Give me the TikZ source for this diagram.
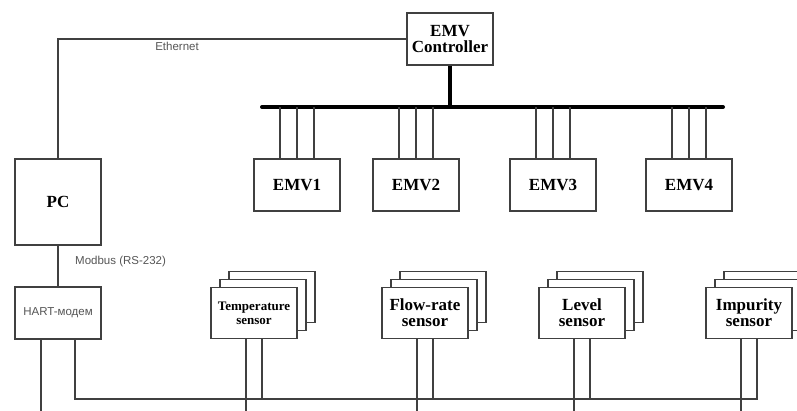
\documentclass[tikz,border=0pt]{standalone}
\usepackage{fontspec}
\setmainfont{Liberation Serif}
\newfontfamily\lsans{Liberation Sans}
\usetikzlibrary{calc}
\definecolor{ln}{HTML}{404040}
\definecolor{tx}{HTML}{555555}
\begin{document}
\begin{tikzpicture}[x=1pt,y=-1pt,
  box/.style={draw=ln,line width=1.3pt,fill=white,minimum width=86pt,minimum height=52pt,inner sep=0pt,align=center,font=\bfseries\fontsize{17}{16}\selectfont},
  lbl/.style={font=\lsans\fontsize{11.5}{13}\selectfont,text=tx,inner sep=0pt},
  wire/.style={draw=ln,line width=1.3pt},
  thick bus/.style={draw=black,line width=4pt}]
\useasboundingbox (0,0) rectangle (797,411);
\coordinate (busL) at (262,107);
\coordinate (busR) at (723,107);
\coordinate (sbus) at (0,399);
\coordinate (bot) at (0,413);
% top
\node[box] (ctrl) at (450,39) {EMV\\Controller};
\node[box,minimum height=86pt] (pc) at (58,202) {PC};
\draw[wire] (pc.north) |- (ctrl.west);
\node[lbl] (eth) at (177,46) {Ethernet};
\draw[thick bus] (ctrl.south) -- (ctrl.south |- busL);
\draw[thick bus,line cap=round] (busL) -- (busR);
\foreach \n/\x/\t in {e1/297/EMV1,e2/416/EMV2,e3/553/EMV3,e4/689/EMV4}{
  \node[box] (\n) at (\x,185) {\t};
  \foreach \d in {-17,0,17}{
    \draw[wire] ([xshift=\d pt]\n.north) -- ([xshift=\d pt]\n.north |- busL);
  }
}
% HART
\node[box,font=\lsans\fontsize{11.5}{13}\selectfont,text=tx] (hart) at (58,313) {HART-модем};
\draw[wire] (pc.south) -- (hart.north);
\node[lbl,anchor=west] (mod) at (75,262) {Modbus (RS-232)};
% sensors
\foreach \n/\x/\t/\f in {s1/254/{Temperature\\sensor}/{\fontsize{13}{14}},s2/425/{Flow-rate\\sensor}/{\fontsize{17}{16}},s3/582/{Level\\sensor}/{\fontsize{17}{16}},s4/749/{Impurity\\sensor}/{\fontsize{17}{16}}}{
  \node[box,minimum height=51pt] (\n c) at (\x+18,297) {};
  \node[box,minimum height=51pt] (\n b) at (\x+9,305) {};
  \node[box,minimum height=51pt,font=\bfseries\f\selectfont] (\n) at (\x,313) {\t};
  \draw[wire] ([xshift=-8pt]\n.south) -- ([xshift=-8pt]\n.south |- bot);
  \draw[wire] ([xshift=8pt]\n.south) -- ([xshift=8pt]\n.south |- sbus);
}
\draw[wire] ([xshift=-17pt]hart.south) -- ([xshift=-17pt]hart.south |- bot);
\draw[wire] ([xshift=17pt]hart.south) |- ([xshift=8pt]s4.south |- sbus) -- ([xshift=8pt]s4.south);
\end{tikzpicture}
\end{document}
